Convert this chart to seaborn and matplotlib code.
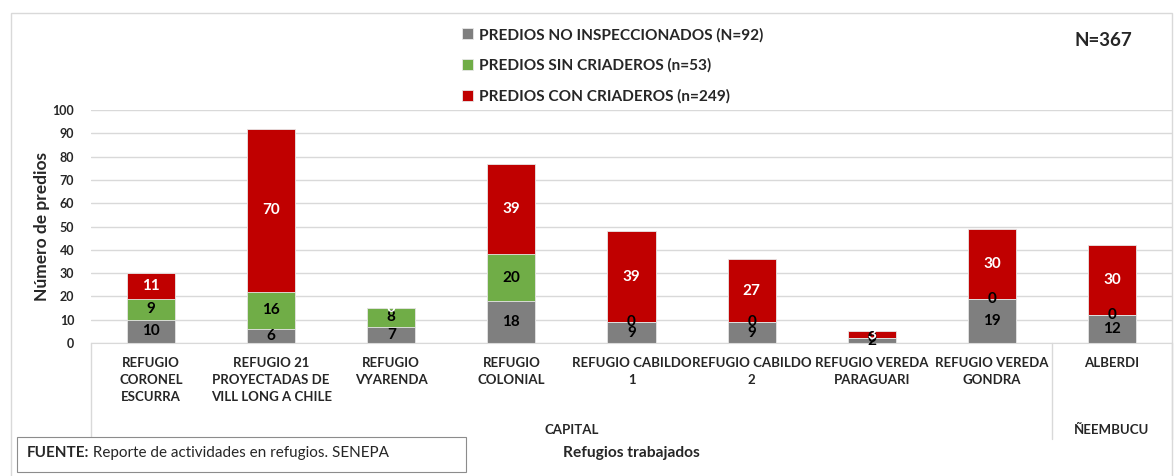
import numpy as np
import pandas as pd
import matplotlib
matplotlib.use("Agg")
import matplotlib.pyplot as plt
import seaborn as sns
from matplotlib.patches import Rectangle

sns.set_style("white")
plt.rcParams['font.family'] = ['Lato', 'DejaVu Sans']

refugios = ["REFUGIO\nCORONEL\nESCURRA", "REFUGIO 21\nPROYECTADAS DE\nVILL LONG A CHILE",
            "REFUGIO\nVYARENDA", "REFUGIO\nCOLONIAL", "REFUGIO CABILDO\n1",
            "REFUGIO CABILDO\n2", "REFUGIO VEREDA\nPARAGUARI", "REFUGIO VEREDA\nGONDRA",
            "ALBERDI"]
no_inspeccionados = [10, 6, 7, 18, 9, 9, 2, 19, 12]
sin_criaderos = [9, 16, 8, 20, 0, 0, 0, 0, 0]
con_criaderos = [11, 70, 0, 39, 39, 27, 3, 30, 30]
grupos = ["CAPITAL", "ÑEEMBUCU"]
grupo_tamano = [8, 1]

series_labels = ["PREDIOS NO INSPECCIONADOS (N=92)", "PREDIOS SIN CRIADEROS (n=53)",
                 "PREDIOS CON CRIADEROS (n=249)"]
colors = ["#7f7f7f", "#70ad47", "#c00000"]
text_colors = ["black", "black", "white"]

df = pd.DataFrame({"refugio": refugios, "gris": no_inspeccionados,
                   "verde": sin_criaderos, "rojo": con_criaderos})
df["gris_verde"] = df["gris"] + df["verde"]
df["total"] = df["gris_verde"] + df["rojo"]

fig = plt.figure(figsize=(11.76, 4.76), dpi=100)
ax = fig.add_axes([91 / 1176, 1 - 343 / 476, 1081 / 1176, 233 / 476])

# stacked look by overlaying cumulative totals
for col, color in zip(["total", "gris_verde", "gris"], colors[::-1]):
    sns.barplot(data=df, x="refugio", y=col, color=color, width=0.4, ax=ax,
                saturation=1, edgecolor="#e8e8e8", linewidth=0.6, legend=False)

# segment labels (centred in each segment, zeros included as in the original)
bottoms = np.zeros(len(df))
for vals, tc in zip([no_inspeccionados, sin_criaderos, con_criaderos], text_colors):
    vals = np.array(vals)
    for i, v in enumerate(vals):
        ax.text(i, bottoms[i] + v / 2, str(v), ha="center", va="center",
                fontsize=11, fontweight="bold", color=tc)
    bottoms = bottoms + vals

ax.set_ylim(0, 100)
ax.set_xlim(-0.5, len(refugios) - 0.5)
yt = list(range(0, 101, 10))
ax.set_yticks(yt, labels=[str(v) for v in yt], fontsize=9, fontweight="bold")
ax.set_xticks(range(len(refugios)), labels=refugios, fontsize=9.5, fontweight="bold",
              linespacing=1.5)
ax.yaxis.grid(True, color="#d9d9d9", linewidth=1)
ax.set_axisbelow(True)
for s in ["top", "right", "left"]:
    ax.spines[s].set_visible(False)
ax.spines["bottom"].set_color("#d9d9d9")
ax.tick_params(axis="both", length=0)
ax.tick_params(axis="x", pad=10)
ax.tick_params(axis="y", pad=12)

ax.set_ylabel("Número de predios", fontsize=12.5, fontweight="bold", va="center")
ax.yaxis.set_label_coords(-0.045, 0.5)
ax.set_xlabel("Refugios trabajados", fontsize=11.2, fontweight="bold")
ax.xaxis.set_label_coords(0.5, -0.44)

# group separators and group labels
trans = ax.get_xaxis_transform()
edges = np.concatenate([[0], np.cumsum(grupo_tamano)]) - 0.5
for e in edges:
    ax.plot([e, e], [0, -0.41], transform=trans, color="#d9d9d9", lw=1, clip_on=False)
for g, a, b in zip(grupos, edges[:-1], edges[1:]):
    ax.text((a + b) / 2, -0.375, g, transform=trans, ha="center", va="center",
            fontsize=9.5, fontweight="bold")

# legend in original order
handles = ax.containers[::-1]
fig.legend(handles, series_labels, loc="upper left", bbox_to_anchor=(454 / 1176, 1 - 20 / 476),
           frameon=False, prop={"weight": "bold", "size": 11.1},
           handlelength=0.7, handleheight=0.7, handletextpad=0.4, labelspacing=1.05,
           borderpad=0)

fig.text(1103 / 1176, 1 - 40 / 476, "N=367", ha="center", va="center",
         fontsize=13.5, fontweight="bold")

# chart border
fig.add_artist(Rectangle((11 / 1176, -0.02), 1161 / 1176, 1 - 13 / 476 + 0.02,
                         transform=fig.transFigure, fill=False, edgecolor="#d9d9d9", lw=1))

# source box
fig.add_artist(Rectangle((17 / 1176, 1 - 472 / 476), 449 / 1176, 35 / 476,
                         transform=fig.transFigure, facecolor="white", edgecolor="#8c8c8c",
                         lw=0.8, zorder=2))
t1 = fig.text(27 / 1176, 1 - 453 / 476, "FUENTE:", ha="left", va="center",
              fontsize=11, fontweight="bold", zorder=3)
bb = t1.get_window_extent(renderer=fig.canvas.get_renderer())
fig.text(bb.x1 / 1176, 1 - 453 / 476, " Reporte de actividades en refugios. SENEPA",
         ha="left", va="center", fontsize=11, zorder=3)

fig.savefig("out.png", dpi=100)
